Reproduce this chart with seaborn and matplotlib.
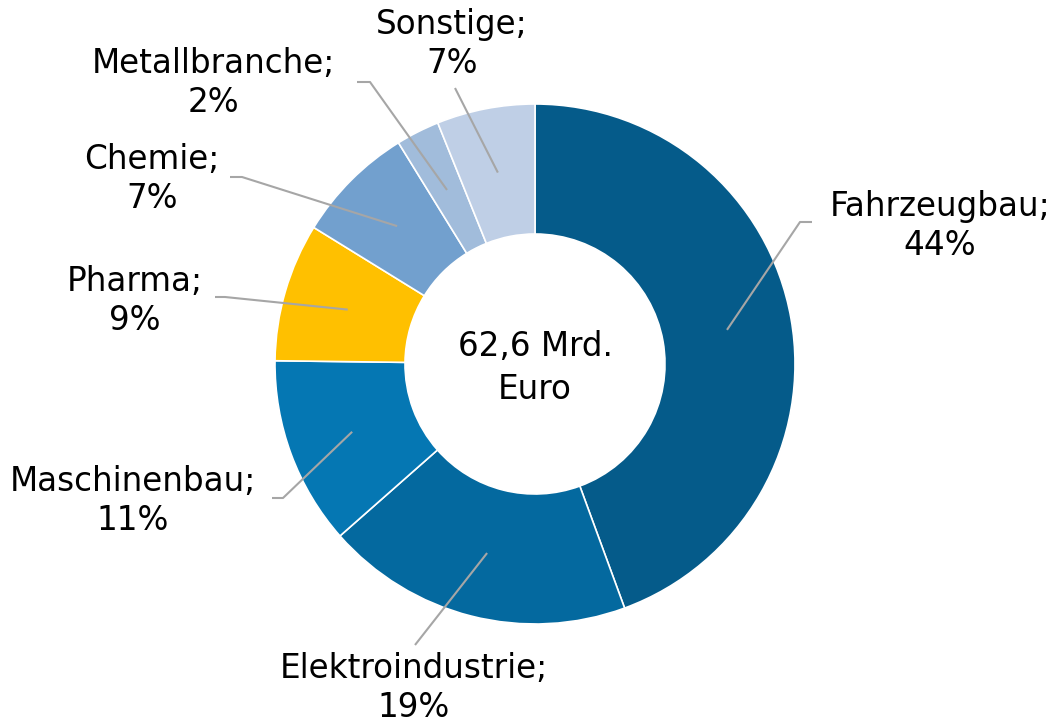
import numpy as np
import matplotlib
matplotlib.use('Agg')
import matplotlib.pyplot as plt
import seaborn as sns

# Umsatz nach Branchen (Anteile in %)
branchen = ['Fahrzeugbau', 'Elektroindustrie', 'Maschinenbau', 'Pharma',
            'Chemie', 'Metallbranche', 'Sonstige']
anteile = [44.4, 19.1, 11.7, 8.6, 7.4, 2.7, 6.1]
prozent_labels = ['44%', '19%', '11%', '9%', '7%', '2%', '7%']
farben = ['#055B8A', '#04699F', '#0577B3', '#FFC000',
          '#72A0CE', '#A1BCDB', '#BFCFE6']
mitte_text = '62,6 Mrd.\nEuro'

sns.set_theme(style='white')
plt.rcParams['font.family'] = ['DejaVu Sans']

W, H = 1055, 726
fig = plt.figure(figsize=(W / 100, H / 100), dpi=100)
ax = fig.add_axes([0, 0, 1, 1])

cx, cy, R = 535, H - 364, 260
wedges, _ = ax.pie(anteile, colors=farben, startangle=90, counterclock=False,
                   center=(cx, cy), radius=R,
                   wedgeprops=dict(width=R * 0.5, edgecolor='white', linewidth=1.2))
ax.set_xlim(0, W)
ax.set_ylim(0, H)
ax.set_aspect('equal')
ax.axis('off')

ax.text(cx, H - 368, mitte_text, ha='center', va='center', fontsize=23.5,
        linespacing=1.42, color='black')

# layout: label centers and leader elbows (pixel coords, y from top)
label_pos = [(940, 226), (414, 688), (133, 501), (135, 301),
             (152, 179), (213, 83), (452, 44)]
elbows = [((800, 222), (812, 222)), ((415, 645), None), ((283, 498), (272, 498)),
          ((225, 297), (215, 297)), ((242, 177), (230, 177)),
          ((370, 82), (357, 82)), ((455, 88), None)]

for w, name, pct, (lx, ly), (e1, e2) in zip(wedges, branchen, prozent_labels,
                                             label_pos, elbows):
    ang = np.deg2rad((w.theta1 + w.theta2) / 2)
    sx, sy = cx + 0.75 * R * np.cos(ang), cy + 0.75 * R * np.sin(ang)
    xs, ys = [sx, e1[0]], [sy, H - e1[1]]
    if e2 is not None:
        xs.append(e2[0])
        ys.append(H - e2[1])
    ax.plot(xs, ys, color='#A6A6A6', lw=1.5, solid_capstyle='butt')
    ax.text(lx, H - ly, f'{name};\n{pct}', ha='center', va='center',
            fontsize=23.5, linespacing=1.2, color='black')

fig.savefig('out.png', dpi=100)
